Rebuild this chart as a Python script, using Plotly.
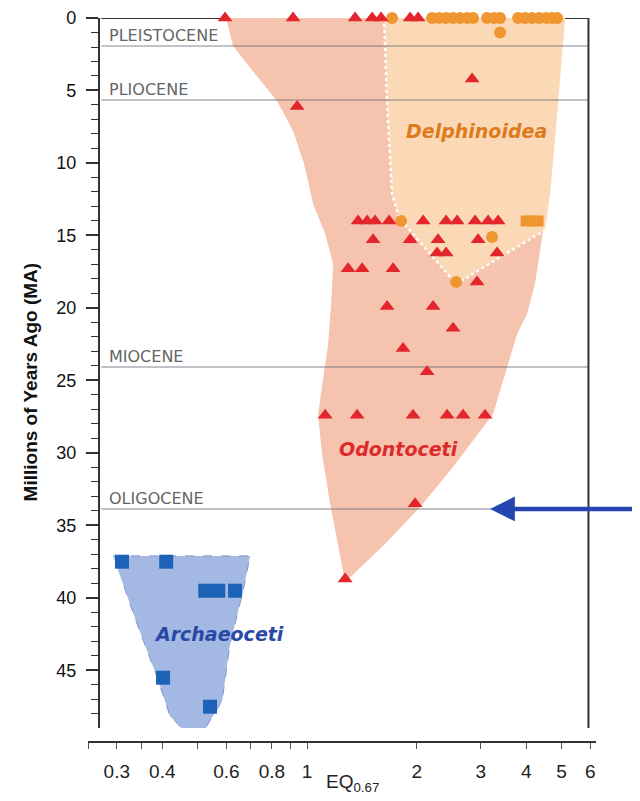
import math
import plotly.graph_objects as go

# ---------------- data ----------------
# Odontoceti (red triangles): EQ0.67 and age (MA)
odonto_eq = [0.595, 0.915, 1.355, 1.509, 1.597, 1.919, 2.018,
             2.840, 0.939,
             1.381, 1.462, 1.537, 1.680, 2.084, 2.409, 2.583, 2.894, 3.143, 3.348,
             1.518, 1.919, 2.290, 2.950,
             2.276, 2.409, 3.327,
             2.931,
             1.296, 1.416, 1.723,
             1.659, 2.219,
             2.518, 1.835, 2.136,
             1.121, 1.372, 1.955, 2.425, 2.683, 3.083,
             1.980, 1.272]
odonto_ma = [0, 0, 0, 0, 0, 0, 0,
             4.2, 6.1,
             14, 14, 14, 14, 14, 14, 14, 14, 14, 14,
             15.3, 15.3, 15.3, 15.3,
             16.2, 16.2, 16.2,
             18.2,
             17.3, 17.3, 17.3,
             19.9, 19.9,
             21.4, 22.8, 24.4,
             27.4, 27.4, 27.4, 27.4, 27.4, 27.4,
             33.5, 38.7]

# Delphinoidea (orange circles and squares)
delph_circ_eq = [1.712, 2.205, 2.305, 2.409, 2.518, 2.633, 2.752, 2.858,
                 3.123, 3.265, 3.390, 3.800, 3.972, 4.151, 4.339, 4.535, 4.712, 4.862,
                 3.390, 1.812, 3.223, 2.567]
delph_circ_ma = [0, 0, 0, 0, 0, 0, 0, 0,
                 0, 0, 0, 0, 0, 0, 0, 0, 0, 0,
                 1.0, 14.0, 15.1, 18.2]
delph_sq_eq = [3.997, 4.151, 4.312]
delph_sq_ma = [14, 14, 14]

# Archaeoceti (blue squares)
archaeo_eq = [0.310, 0.410, 0.525, 0.570, 0.634, 0.402, 0.541]
archaeo_ma = [37.5, 37.5, 39.5, 39.5, 39.5, 45.5, 47.5]

# Group envelopes (EQ, MA)
odonto_region_eq = [0.599, 0.626, 0.720, 0.827, 0.915, 0.981, 1.039, 1.121, 1.179, 1.164,
                    1.142, 1.099, 1.072, 1.099, 1.157, 1.272,
                    1.638, 2.044, 2.518, 3.243, 3.540, 3.776, 4.020, 4.228, 4.446, 4.652,
                    4.862, 5.116]
odonto_region_ma = [0, 1.93, 3.86, 5.72, 7.79, 10.07, 12.83, 14.9, 16.97, 19.72,
                    22.48, 25.24, 27.31, 30.07, 33.52, 38.9,
                    36.28, 33.72, 30.97, 27.31, 24.07, 21.79, 20.41, 18.34, 14.69, 9.38,
                    3.86, 0]
delph_region_eq = [1.627, 5.116, 4.893, 4.652, 4.506, 2.567, 1.790, 1.712, 1.659]
delph_region_ma = [0, 0, 5.93, 12.14, 14.62, 18.34, 13.8, 12.14, 5.93]
delph_edge_eq = [1.627, 1.659, 1.712, 1.790, 2.567, 4.506]
delph_edge_ma = [0, 5.93, 12.14, 13.8, 18.34, 14.62]
archaeo_region_eq = [0.293, 0.697, 0.667, 0.614, 0.584, 0.525, 0.453, 0.420, 0.387, 0.341, 0.310]
archaeo_region_ma = [37.1, 37.1, 39.52, 43.17, 47.1, 49.0, 49.0, 48.14, 45.45, 41.79, 38.83]

# Epochs
epoch_names = ["PLEISTOCENE", "PLIOCENE", "MIOCENE", "OLIGOCENE"]
epoch_ma = [1.93, 5.66, 24.07, 33.86]

# Axis ticks
x_tickvals = [0.25, 0.3, 0.35, 0.4, 0.5, 0.6, 0.7, 0.8, 0.9, 1, 2, 3, 4, 5, 6]
x_ticktext = ["", "0.3", "", "0.4", "", "0.6", "", "0.8", "", "1", "2", "3", "4", "5", "6"]
y_tickvals = [0, 5, 10, 15, 20, 25, 30, 35, 40, 45]

X_MIN, X_MAX = 0.25, 6.22
Y_MAX = 48.97
X_LEFT, X_RIGHT = 0.272, 5.93   # frame (y-axis line and right border)

SALMON = "#f6c3ae"
PEACH = "#fbd9b6"
LBLUE = "#a3b9e3"
RED = "#e3262b"
ORANGE = "#ef9630"
BLUE = "#1c63b7"

PLOT_H = 724


def lg(v):
    return math.log10(v)


fig = go.Figure()

# regions
fig.add_trace(go.Scatter(x=odonto_region_eq, y=odonto_region_ma, fill="toself",
                         fillcolor=SALMON, mode="lines", line=dict(width=0),
                         hoverinfo="skip", showlegend=False))
fig.add_trace(go.Scatter(x=delph_region_eq, y=delph_region_ma, fill="toself",
                         fillcolor=PEACH, mode="lines", line=dict(width=0),
                         hoverinfo="skip", showlegend=False))
fig.add_trace(go.Scatter(x=delph_edge_eq, y=delph_edge_ma, mode="lines",
                         line=dict(color="white", width=2.5, dash="dot"),
                         hoverinfo="skip", showlegend=False))
fig.add_trace(go.Scatter(x=archaeo_region_eq, y=archaeo_region_ma, fill="toself",
                         fillcolor=LBLUE, mode="lines",
                         line=dict(color="#7f95cf", width=1, dash="dash"),
                         hoverinfo="skip", showlegend=False))

# epoch lines
for ma in epoch_ma:
    fig.add_trace(go.Scatter(x=[X_LEFT, X_RIGHT], y=[ma, ma], mode="lines",
                             line=dict(color="rgba(105,105,125,0.55)", width=1.6),
                             hoverinfo="skip", showlegend=False))

# markers
fig.add_trace(go.Scatter(x=archaeo_eq, y=archaeo_ma, mode="markers",
                         marker=dict(symbol="square", size=14, color=BLUE),
                         cliponaxis=False, showlegend=False))
fig.add_trace(go.Scatter(x=delph_sq_eq, y=delph_sq_ma, mode="markers",
                         marker=dict(symbol="square", size=11, color=ORANGE),
                         cliponaxis=False, showlegend=False))
fig.add_trace(go.Scatter(x=delph_circ_eq, y=delph_circ_ma, mode="markers",
                         marker=dict(symbol="circle", size=12, color=ORANGE),
                         cliponaxis=False, showlegend=False))
fig.add_trace(go.Scatter(x=odonto_eq, y=odonto_ma, mode="markers",
                         marker=dict(symbol="triangle-up", size=13, color=RED),
                         cliponaxis=False, showlegend=False))

# frame: top and right borders
fig.add_shape(type="line", xref="x", yref="y", x0=X_LEFT, x1=X_RIGHT, y0=0, y1=0,
              line=dict(color="#333333", width=2), layer="below")
fig.add_shape(type="line", xref="x", yref="y", x0=X_RIGHT, x1=X_RIGHT, y0=0, y1=Y_MAX,
              line=dict(color="#333333", width=2), layer="above")

# epoch labels
for name, ma in zip(epoch_names, epoch_ma):
    fig.add_annotation(x=0.0374, xref="paper", y=ma, yref="y", text=name,
                       showarrow=False, xanchor="left", yanchor="bottom", yshift=-1,
                       font=dict(family="DejaVu Sans", size=16, color="#666666"))

# group labels (annotation x on a log axis is given in log10 units)
lab_font = dict(family="DejaVu Sans", size=19)
fig.add_annotation(x=lg(2.913), y=7.79, xref="x", yref="y", text="<b><i>Delphinoidea</i></b>",
                   showarrow=False, font=dict(**lab_font, color="#df7a1c"))
fig.add_annotation(x=lg(1.778), y=29.72, xref="x", yref="y", text="<b><i>Odontoceti</i></b>",
                   showarrow=False, font=dict(**lab_font, color="#dc2b2b"))
fig.add_annotation(x=lg(0.573), y=42.48, xref="x", yref="y", text="<b><i>Archaeoceti</i></b>",
                   showarrow=False, font=dict(**lab_font, color="#2948a6"))

# arrow pointing to the Oligocene line
fig.add_annotation(x=lg(3.183), y=33.86, xref="x", yref="y", ax=145, ay=0,
                   axref="pixel", ayref="pixel", text="", showarrow=True,
                   arrowhead=2, arrowsize=1.1, arrowwidth=4.5, arrowcolor="#2545b0")

# axis titles
fig.add_annotation(x=-0.1378, xref="paper", y=25.1, yref="y",
                   text="<b>Millions of Years Ago (MA)</b>", textangle=-90,
                   showarrow=False, font=dict(family="Liberation Sans", size=19, color="#111111"))
fig.add_annotation(x=0.5197, xref="paper", y=-41 / PLOT_H, yref="paper",
                   text="EQ<sub>0.67</sub>", showarrow=False, yanchor="middle",
                   font=dict(family="Liberation Sans", size=19, color="#222222"))

fig.update_layout(
    width=632, height=793,
    margin=dict(l=80, r=44, t=10, b=59, autoexpand=False),
    paper_bgcolor="white", plot_bgcolor="white",
    font=dict(family="Liberation Sans", color="#111111"),
    xaxis=dict(type="log", range=[lg(X_MIN), lg(X_MAX)],
               anchor="free", position=0, showgrid=False, zeroline=False,
               showline=True, linecolor="#333333", linewidth=2,
               ticks="outside", ticklen=6, tickwidth=1.3, tickcolor="#555555",
               tickvals=x_tickvals, ticktext=x_ticktext, ticklabeloverflow="allow",
               tickfont=dict(size=19, color="#222222"), ticklabelstandoff=6),
    yaxis=dict(range=[Y_MAX, 0], domain=[14 / PLOT_H, 1], anchor="free", position=0.0216,
               showgrid=False, zeroline=False, showline=True, linecolor="#333333",
               linewidth=2, ticks="outside", ticklen=12, tickwidth=1.5,
               tickcolor="#333333", tickvals=y_tickvals, ticklabeloverflow="allow",
               tickfont=dict(size=18, color="#111111"), ticklabelstandoff=6,
               minor=dict(dtick=1, ticks="outside", ticklen=7, tickwidth=1.3,
                          tickcolor="#333333")),
)

fig.write_html("out.html")
